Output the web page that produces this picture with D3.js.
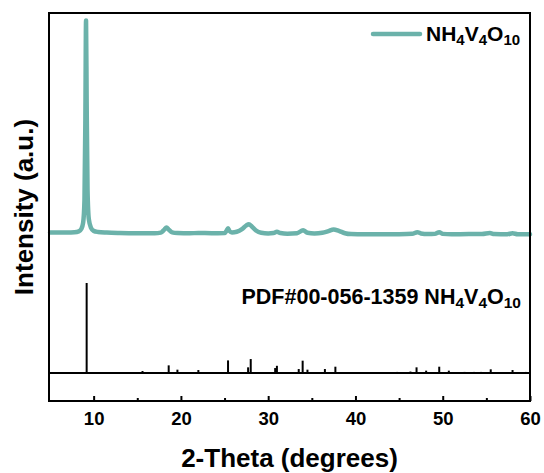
<!DOCTYPE html>
<html>
<head>
<meta charset="utf-8">
<script src="https://cdn.jsdelivr.net/npm/d3@7"></script>
<style>
  body { margin: 0; background: #fff; }
  text { font-family: Arial, "Liberation Sans", sans-serif; font-weight: bold; fill: #000; }
</style>
</head>
<body>
<script>
// measured pattern (2-theta, intensity in % of the main peak)
var twoTheta = [5.0, 6.0, 7.0, 7.8, 8.3, 8.6, 8.8, 8.95, 9.05, 9.13, 9.2, 9.3, 9.45, 9.7, 10.0, 10.5, 11.5, 13.0, 15.0, 17.0,
  17.7, 18.1, 18.35, 18.6, 19.0, 19.6, 21.0, 22.0, 23.5, 25.0, 25.25, 25.4, 25.55, 25.85, 26.4, 27.0, 27.5, 27.8, 28.1, 28.6,
  29.2, 30.0, 30.6, 31.0, 31.4, 32.2, 33.3, 34.0, 34.5, 35.3, 36.2, 36.9, 37.5, 38.1, 38.8, 39.5, 41.0, 43.0, 45.0, 46.5,
  47.1, 47.5, 48.3, 49.1, 49.6, 50.0, 51.0, 53.0, 54.5, 55.4, 55.9, 57.4, 58.0, 58.6, 60.0];
var intensity = [0.9, 0.9, 0.9, 1.0, 1.4, 2.6, 5.5, 16, 52, 100, 62, 21, 7, 3, 1.6, 1.1, 0.8, 0.6, 0.5, 0.5,
  0.8, 2.2, 3.2, 2.2, 0.9, 0.6, 0.5, 0.6, 0.5, 0.6, 1.8, 2.8, 1.6, 0.9, 1.2, 2.4, 4.2, 4.7, 3.8, 1.8,
  0.7, 0.4, 0.6, 1.2, 0.6, 0.3, 0.5, 1.9, 0.7, 0.4, 0.7, 1.5, 2.3, 1.6, 0.5, 0.1, 0, 0, 0.05, 0.2,
  1.0, 0.4, 0.1, 0.2, 1.0, 0.2, 0, 0.1, 0.1, 0.6, 0.1, 0, 0.5, 0, 0];

// reference card PDF#00-056-1359 sticks
var refPos = [9.2, 15.6, 18.6, 19.6, 22.0, 25.4, 27.7, 28.0, 30.8, 31.0, 33.5, 33.95, 34.5, 36.5, 37.7,
  44.8, 46.3, 47.0, 48.1, 49.6, 50.7, 52.5, 53.6, 54.4, 55.5, 58.0, 59.5];
var refInt = [100, 2.2, 8.5, 3.7, 3.3, 14, 6.3, 15.5, 5.5, 8, 4.4, 13.7, 3.7, 4.4, 7,
  1.2, 1.6, 6.3, 2.6, 7, 2.6, 1.2, 1.2, 1.2, 4.1, 3.3, 1.2];

var majorTicks = [10, 20, 30, 40, 50, 60];
var minorTicks = [15, 25, 35, 45, 55];

var sampleName = "NH4V4O10";
var teal = "#6bb2aa";

var W = 544, H = 473;
var plotL = 49, plotR = 530, plotT = 13, plotB = 401;
var refBase = 373;

var svg = d3.select("body").append("svg")
    .attr("width", W)
    .attr("height", H);

var x = d3.scaleLinear().domain([5, 60]).range([50, 530]);
var y = d3.scaleLinear().domain([0, 100]).range([234.3, 20.5]);
var yRef = d3.scaleLinear().domain([0, 100]).range([refBase, 283]);

// reference sticks
svg.append("g").selectAll("line")
    .data(refPos)
  .enter().append("line")
    .attr("x1", function(d) { return x(d); })
    .attr("x2", function(d) { return x(d); })
    .attr("y1", refBase)
    .attr("y2", function(d, i) { return yRef(refInt[i]); })
    .attr("stroke", "#000")
    .attr("stroke-width", 2);

// separator line for the stick panel
svg.append("line")
    .attr("x1", plotL).attr("x2", plotR)
    .attr("y1", refBase).attr("y2", refBase)
    .attr("stroke", "#000")
    .attr("stroke-width", 2);

// measured curve
var pts = twoTheta.map(function(t, i) { return [t, intensity[i]]; });
var line = d3.line()
    .x(function(d) { return x(d[0]); })
    .y(function(d) { return y(d[1]); })
    .curve(d3.curveMonotoneX);

svg.append("path")
    .datum(pts)
    .attr("d", line)
    .attr("fill", "none")
    .attr("stroke", teal)
    .attr("stroke-width", 4.5)
    .attr("stroke-linejoin", "round")
    .attr("stroke-linecap", "round");

// x axis, ticks pointing inward
var xAxis = svg.append("g")
    .attr("transform", "translate(0," + plotB + ")")
    .call(d3.axisBottom(x).tickValues(majorTicks).tickSize(-5).tickPadding(11));
xAxis.select(".domain").remove();
xAxis.selectAll(".tick line").attr("stroke", "#000").attr("stroke-width", 2);
xAxis.selectAll(".tick text")
    .style("font-size", "18.5px")
    .style("font-family", "Arial, 'Liberation Sans', sans-serif")
    .style("font-weight", "bold");

var xMinor = svg.append("g")
    .attr("transform", "translate(0," + plotB + ")")
    .call(d3.axisBottom(x).tickValues(minorTicks).tickSize(-3).tickFormat(""));
xMinor.select(".domain").remove();
xMinor.selectAll(".tick line").attr("stroke", "#000").attr("stroke-width", 2);

// frame
svg.append("rect")
    .attr("x", plotL).attr("y", plotT)
    .attr("width", plotR - plotL).attr("height", plotB - plotT)
    .attr("fill", "none")
    .attr("stroke", "#000")
    .attr("stroke-width", 2);

// axis titles
svg.append("text")
    .attr("x", (plotL + plotR) / 2)
    .attr("y", 467)
    .attr("text-anchor", "middle")
    .style("font-size", "26px")
    .text("2-Theta (degrees)");

svg.append("text")
    .attr("transform", "translate(33," + ((plotT + plotB) / 2) + ") rotate(-90)")
    .attr("text-anchor", "middle")
    .style("font-size", "26px")
    .text("Intensity (a.u.)");

// chemical formula with subscripts
function formula(sel, name, size, subSize) {
  var parts = name.match(/[A-Za-z]+|\d+/g);
  parts.forEach(function(p) {
    var isNum = /\d/.test(p);
    sel.append("tspan")
      .style("font-size", (isNum ? subSize : size) + "px")
      .attr("baseline-shift", isNum ? "-25%" : null)
      .text(p);
  });
}

// legend
svg.append("line")
    .attr("x1", 373).attr("x2", 420)
    .attr("y1", 34).attr("y2", 34)
    .attr("stroke", teal)
    .attr("stroke-width", 4.5)
    .attr("stroke-linecap", "round");

var leg = svg.append("text")
    .attr("x", 426)
    .attr("y", 41);
formula(leg, sampleName, 21, 15);

// reference label
var refLabel = svg.append("text")
    .attr("x", 521)
    .attr("y", 304)
    .attr("text-anchor", "end");
refLabel.append("tspan").style("font-size", "21.5px").text("PDF#00-056-1359 ");
formula(refLabel, sampleName, 21.5, 15.5);
</script>
</body>
</html>
